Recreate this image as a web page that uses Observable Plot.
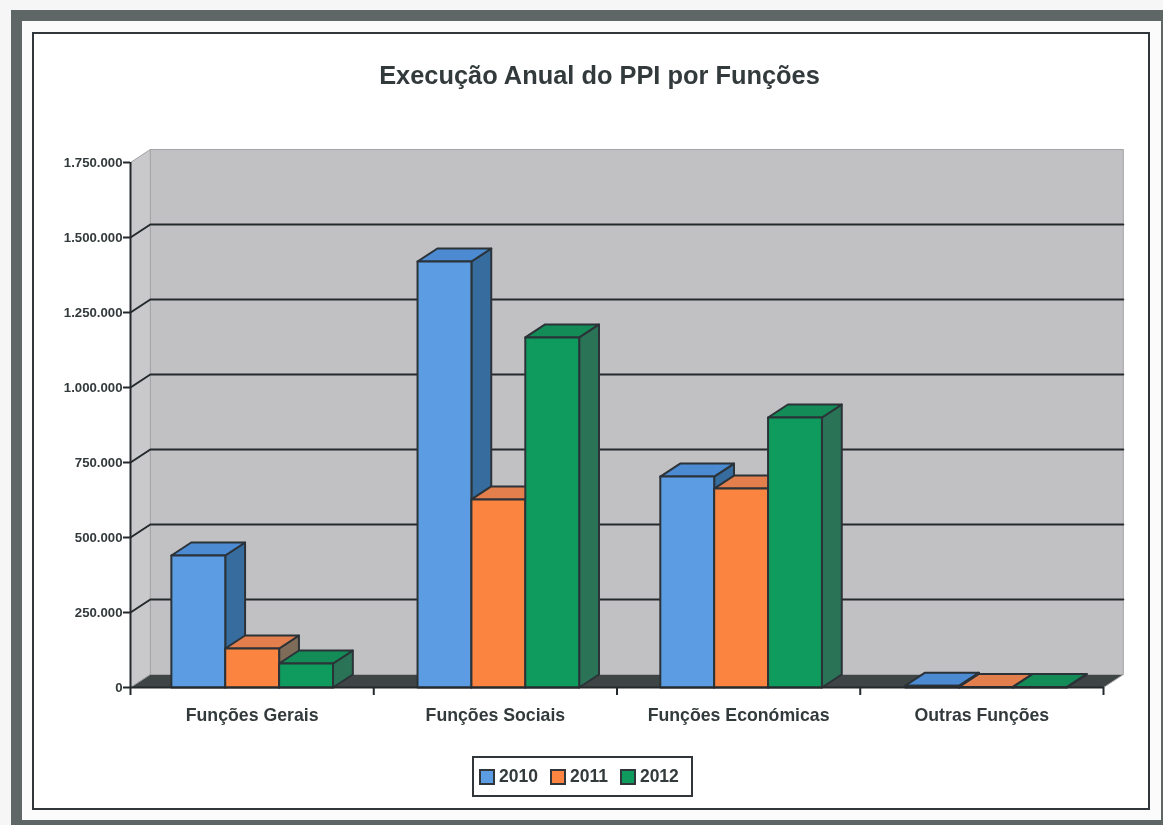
<!DOCTYPE html>
<html lang="pt">
<head>
<meta charset="utf-8">
<title>Execução Anual do PPI por Funções</title>
<script src="https://cdn.jsdelivr.net/npm/d3@7"></script>
<script src="https://cdn.jsdelivr.net/npm/@observablehq/plot@0.6"></script>
<style>
  html, body { margin: 0; padding: 0; background: #f6f6f6; }
  #page { position: relative; width: 1163px; height: 825px; overflow: hidden; font-family: "Liberation Sans", Arial, sans-serif; color: #333a3c; filter: blur(0.6px); }
  #outer { position: absolute; left: 11px; top: 10px; width: 1139px; height: 799px; border: 11px solid #5e6765; background: #fbfbfb; box-sizing: content-box; }
  #inner { position: absolute; left: 32px; top: 32px; width: 1114px; height: 774px; border: 2px solid #30363a; background: #ffffff; }
  #title { position: absolute; left: 0; right: 0; top: 61px; padding-left: 36px; text-align: center; font-size: 25.4px; font-weight: 700; }
  #chart { position: absolute; left: 0; top: 110px; }
  #chart svg { background: transparent; overflow: visible; }
  #legend { position: absolute; left: 472px; top: 756px; width: 212px; height: 37px; padding-left: 5px; border: 2px solid #30363a; display: flex; align-items: center; justify-content: flex-start; gap: 12px; font-size: 17.5px; font-weight: 700; background: #fff; }
  #legend span { display: inline-flex; align-items: center; gap: 4px; }
  #legend i { display: inline-block; width: 12px; height: 12px; border: 2px solid #30363a; }
</style>
</head>
<body>
<div id="page">
  <div id="outer"></div>
  <div id="inner"></div>
  <div id="title">Execução Anual do PPI por Funções</div>
  <div id="chart"></div>
  <div id="legend"></div>
</div>
<script>
const categories = ["Funções Gerais", "Funções Sociais", "Funções Económicas", "Outras Funções"];
const years = ["2010", "2011", "2012"];
const values2010 = [440000, 1420000, 703000, 6000];
const values2011 = [130000, 627000, 663000, 2000];
const values2012 = [80000, 1167000, 900000, 2000];
const yTicks = [0, 250000, 500000, 750000, 1000000, 1250000, 1500000, 1750000];

const series = [values2010, values2011, values2012];
const frontColors = ["#5c9ce2", "#fb8540", "#0f9b5d"];
const topColors = ["#4c8ad2", "#e27f4c", "#138c58"];
const sideColors = ["#376c9f", "#7e6b58", "#2a7357"];

// Layout of the fake 3D box, expressed in data units of the two scales.
const yMax = 1750000;
const depthX = 0.0815;
const depthY = 43333;
const barW = 0.2215;
const groupStart = [0.168, 0.18, 0.178, 0.185];

const ptFormat = d3.formatLocale({decimal: ",", thousands: ".", grouping: [3], currency: ["", ""]}).format(",d");

const polys = [];
function poly(id, fill, pts) {
  [...pts, pts[0]].forEach(([x, y]) => polys.push({id, fill, x, y}));
}
// back wall, left wall, floor
poly("back", "#c1c1c4", [[depthX, depthY], [4 + depthX, depthY], [4 + depthX, yMax + depthY], [depthX, yMax + depthY]]);
poly("left", "#c9c9cb", [[0, 0], [depthX, depthY], [depthX, yMax + depthY], [0, yMax]]);
poly("floor", "#3f4545", [[0, 0], [4, 0], [4 + depthX, depthY], [depthX, depthY]]);

// grid lines run along the left wall and then along the back wall
const grid = yTicks.slice(1, -1).flatMap(t => [
  {t, x: 0, y: t},
  {t, x: depthX, y: t + depthY},
  {t, x: 4 + depthX, y: t + depthY}
]);

// bars, painted from left to right so that each one hides its neighbour's side
categories.forEach((c, i) => {
  series.forEach((vals, s) => {
    const x0 = i + groupStart[i] + s * barW, x1 = x0 + barW, v = vals[i], id = c + s;
    poly(id + "side", sideColors[s], [[x1, 0], [x1 + depthX, depthY], [x1 + depthX, v + depthY], [x1, v]]);
    poly(id + "top", topColors[s], [[x0, v], [x1, v], [x1 + depthX, v + depthY], [x0 + depthX, v + depthY]]);
    poly(id + "front", frontColors[s], [[x0, 0], [x1, 0], [x1, v], [x0, v]]);
  });
});
const wallIds = new Set(["back", "left", "floor"]);

const plot = Plot.plot({
  width: 1163,
  height: 630,
  marginLeft: 130,
  marginRight: 60,
  marginTop: 52,
  marginBottom: 53,
  style: {background: "transparent", fontFamily: "'Liberation Sans', Arial, sans-serif"},
  x: {domain: [0, 4]},
  y: {domain: [0, yMax]},
  color: {type: "identity"},
  marks: [
    Plot.line(polys.filter(d => wallIds.has(d.id)), {x: "x", y: "y", z: "id", fill: "fill", stroke: "#a3a3a6", strokeWidth: 1}),
    Plot.line(grid, {x: "x", y: "y", z: "t", stroke: "#24292c", strokeWidth: 2}),
    Plot.line(polys.filter(d => !wallIds.has(d.id)), {x: "x", y: "y", z: "id", fill: "fill", stroke: "#2b3338", strokeWidth: 2, strokeLinejoin: "round"}),
    Plot.ruleX([0], {y1: 0, y2: yMax, stroke: "#24292c", strokeWidth: 2}),
    Plot.ruleY([0], {x1: 0, x2: 4, stroke: "#24292c", strokeWidth: 2}),
    Plot.axisY({ticks: yTicks, tickFormat: ptFormat, label: null, tickSize: 7, tickPadding: 1, fontSize: 13.2, fontWeight: 700, stroke: "#24292c", strokeWidth: 2, fill: "#333a3c"}),
    Plot.axisX({ticks: [0, 1, 2, 3, 4], tickFormat: () => "", label: null, tickSize: 8, stroke: "#24292c", strokeWidth: 2}),
    Plot.axisX({ticks: [0.5, 1.5, 2.5, 3.5], tickFormat: d => categories[d - 0.5], label: null, tickSize: 0, tickPadding: 21, fontSize: 17.7, fontWeight: 700, fill: "#333a3c"})
  ]
});
document.getElementById("chart").append(plot);

const legend = document.getElementById("legend");
years.forEach((y, s) => {
  const item = document.createElement("span");
  const swatch = document.createElement("i");
  swatch.style.background = frontColors[s];
  item.append(swatch, document.createTextNode(y));
  legend.append(item);
});
</script>
</body>
</html>
